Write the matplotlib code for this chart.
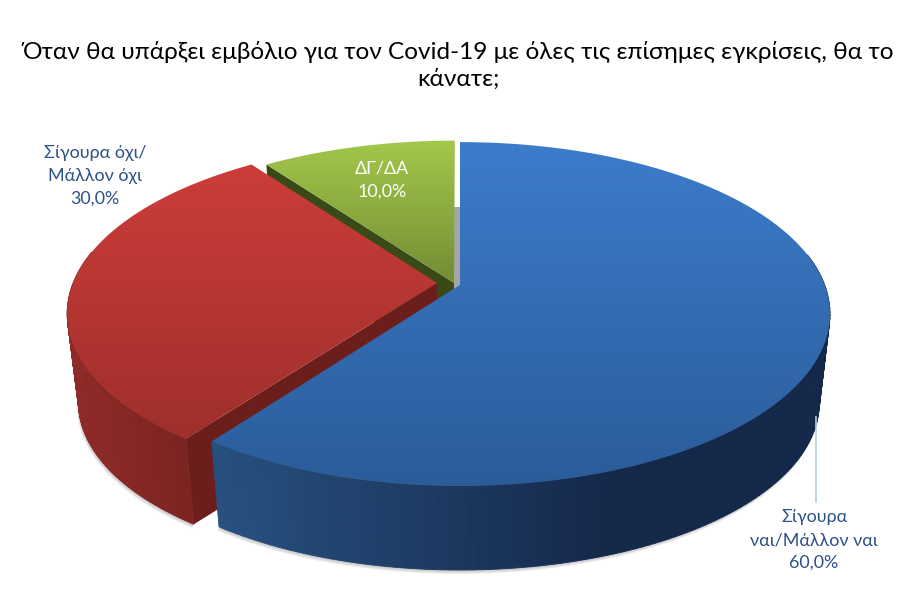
# 3D looking pie chart, drawn by hand because matplotlib has no 3D pie

import numpy as np
import matplotlib
matplotlib.use("Agg")
import matplotlib.pyplot as plt
from matplotlib.colors import LinearSegmentedColormap
from matplotlib.patches import Polygon, Rectangle

# data

title = "Όταν θα υπάρξει εμβόλιο για τον Covid-19 με όλες τις επίσημες εγκρίσεις, θα το\nκάνατε;"
names = ["Σίγουρα\nναι/Μάλλον ναι", "Σίγουρα όχι/\nΜάλλον όχι", "ΔΓ/ΔΑ"]
values = [60.0, 30.0, 10.0]

# styles

explode_x = [0.0, -0.063, -0.0165]
explode_y = [0.0, 0.012, 0.012]
top_colors = [("#3c7ccb", "#2b5c9a"), ("#cc3d39", "#9f2f2c"), ("#a2c84b", "#738d34")]
wall_colors = [("#27507f", "#14284a"), ("#8e2a27", "#7a2320"), ("#3a4a16", "#3a4a16")]
side_colors = ["#1c3a61", "#6b1e1b", "#3a4a16"]
text_blue = "#2a5189"

# geometry of the tilted disc, in pixels of the figure

cx, cy = 460, 285
rx, ry = 364.7, 167
tilt = 0.1686
drop = 90
shrink = 1.03


def project(X, Y, low=False):
    w = 1 + tilt * Y
    s = shrink if low else 1.0
    x = cx + rx * X / (w * s)
    y = cy + (drop if low else 0) - ry * Y / (w * s)
    return np.column_stack([x, y])


def gradient_fill(ax, pts, colors, z):
    # top to bottom gradient in a polygon, clipped image does the work
    cmap = LinearSegmentedColormap.from_list("g", colors)
    x0, x1 = pts[:, 0].min(), pts[:, 0].max()
    y0, y1 = pts[:, 1].min(), pts[:, 1].max()
    grad = np.linspace(0, 1, 256).reshape(-1, 1)
    im = ax.imshow(grad, extent=(x0, x1, y1, y0), aspect="auto", cmap=cmap,
                   vmin=0, vmax=1, zorder=z, interpolation="bilinear")
    patch = Polygon(pts, closed=True, transform=ax.transData, fc="none", ec="none")
    ax.add_patch(patch)
    im.set_clip_path(patch)


def wall_strips(ax, top_rim, low_rim, Y, colors, z):
    # round wall as thin strips so the outline stays tangent, colour goes with x
    cmap = LinearSegmentedColormap.from_list("w", colors)
    x0, x1 = low_rim[:, 0].min(), low_rim[:, 0].max()
    for i in range(len(top_rim) - 1):
        # the back of the rim faces away, nothing to draw there
        if Y[i] > 0.2:
            continue
        strip = np.vstack([top_rim[i], top_rim[i + 1], low_rim[i + 1], low_rim[i]])
        frac = min(1.0, (strip[:, 0].mean() - x0) / (0.65 * (x1 - x0)))
        c = cmap(max(frac, 0.0))
        ax.add_patch(Polygon(strip, closed=True, fc=c, ec=c, lw=0.6, zorder=z))


fig = plt.figure(figsize=(9.21, 5.92), dpi=100)
ax = fig.add_axes([0, 0, 1, 1])

# angles run clockwise from 12 o'clock
edges = np.cumsum([0] + values) / np.sum(values) * 2 * np.pi

# soft shadow under the whole thing
for j in range(len(values)):
    t = np.linspace(edges[j], edges[j + 1], 150)
    X = np.sin(t) + explode_x[j]
    Y = np.cos(t) + explode_y[j]
    low = project(X, Y, low=True)
    for off in [4, 3, 2, 1]:
        ax.add_patch(Polygon(low + [-off * 0.4, off], closed=True, fc="#606060",
                             ec="none", alpha=0.10, zorder=1))

# the strip of blue side that shows through the gap next to the green slice
gap_left = project(np.array([explode_x[2]]), np.array([0.0]))[0, 0]
ax.add_patch(Rectangle((gap_left, cy - 78), cx - gap_left, 81, fc="#a6a6a6", ec="none", zorder=2))

# green and red go first, blue covers them
z = 3
for j in [2, 1, 0]:
    t = np.linspace(edges[j], edges[j + 1], 200)
    X = np.sin(t) + explode_x[j]
    Y = np.cos(t) + explode_y[j]
    ax_x = np.array([explode_x[j]])
    ax_y = np.array([explode_y[j]])

    top_rim = project(X, Y)
    low_rim = project(X, Y, low=True)
    apex = project(ax_x, ax_y)
    apex_low = project(ax_x, ax_y, low=True)

    # flat side at the start of the slice, the one at the end never shows
    side = np.vstack([apex, top_rim[0], low_rim[0], apex_low])
    if j == 0:
        side = None
    if side is not None:
        ax.add_patch(Polygon(side, closed=True, fc=side_colors[j], ec="none", zorder=z))
        z += 1

    wall_strips(ax, top_rim, low_rim, Y, wall_colors[j], z)
    z += 1

    face = np.vstack([apex, top_rim])
    gradient_fill(ax, face, top_colors[j], z)
    z += 1

# leader line of the blue label
ax.plot([815.5, 815.5], [417, 502], color="#b8cce4", lw=1.2, zorder=z)
z += 1

# texts
font = ["Lato", "Noto Sans"]
ax.text(458, 65.5, title, ha="center", va="center", fontsize=17.55, color="black",
        family=font, linespacing=1.33, zorder=z)

percent = ["{:.1f}%".format(v).replace(".", ",") for v in values]
ax.text(814, 540, names[0] + "\n" + percent[0], ha="center", va="center", fontsize=12.9,
        color=text_blue, family=font, linespacing=1.54, zorder=z)
ax.text(95, 176, names[1] + "\n" + percent[1], ha="center", va="center", fontsize=12.9,
        color=text_blue, family=font, linespacing=1.54, zorder=z)
ax.text(382, 180, names[2] + "\n" + percent[2], ha="center", va="center", fontsize=12.9,
        color="white", family=font, linespacing=1.54, zorder=z)

ax.set_xlim(0, 921)
ax.set_ylim(592, 0)
ax.axis("off")

fig.savefig("out.png", dpi=100)
